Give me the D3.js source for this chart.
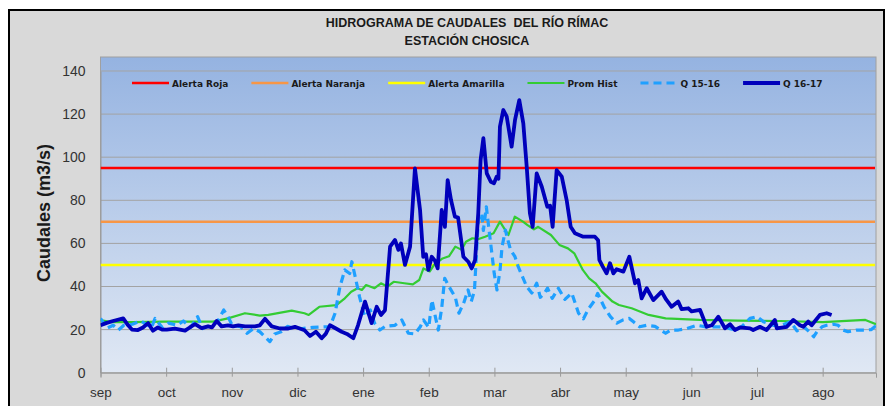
<!DOCTYPE html>
<html><head><meta charset="utf-8">
<script src="https://cdn.jsdelivr.net/npm/d3@7"></script>
<style>body{margin:0;background:#fff;}svg{display:block;}</style>
</head><body>
<svg id="c" width="886" height="406"></svg>
<script>
// ---------- DATA ----------
const months = ["sep","oct","nov","dic","ene","feb","mar","abr","may","jun","jul","ago"];
const yTicks = [0,20,40,60,80,100,120,140];
const alertNames = ["Alerta Roja","Alerta Naranja","Alerta Amarilla"];
const alertValues = [95,70,50];

const promDays = [0,5,15,30,50,53,60,68,75,79,90,96,98,103,111,115,118,121,123,125,129,132,135,138,143,147,150,152,155,157,161,164,167,170,172,175,178,181,185,188,190,192,195,199,201,204,206,212,216,220,223,227,230,233,236,241,244,250,258,266,282,300,320,340,360,365];
const promVals = [24.4,23.5,23.5,23.7,23.7,23.7,25.2,27.6,26.5,26.8,28.8,27.6,26.8,30.6,31.4,34.5,37.6,39.2,38.4,40.7,39.2,41.5,40,42.2,41.5,41,43,48.4,47,50,53,54,58.5,57,60.8,62.4,62,63.1,64.7,70.1,67,63.9,72.4,70,68.5,66.5,67.7,63.9,59.3,57.7,55.4,47.7,43.8,41.5,37.6,33,31.4,29.9,26.8,25.2,24.5,24.2,24,23.5,24.5,22.5];

const q1516Days = [0,2.9,6,8.4,11,15,19,24,25.7,29,32,36,39,42.5,45.7,48,52,55,58,60,62,66,69,72,75,77.4,79.7,82,85,88,91,95,100,105,108,110.4,112.7,115,117.3,118.3,120,121.9,124.3,127,129,131.5,134,138.6,141.8,144.9,148,150.5,152,154.5,156,157.6,159,160.6,162,164,167,168.7,171,173,174.5,176,177.8,179.4,180.2,181.6,182.9,184,185.3,186.6,188,189,190.6,191.6,193,195,196.6,198,200.6,203,205.3,207,209,210.4,212.6,215.5,218.6,221.8,225,227.3,229.6,232.7,234,237,240,243,246,248.9,251,253.7,257,261,266,268.4,272,276,280.6,285,289,293,298.6,301.7,305.7,309,312,316.6,320.7,324.7,327.8,331,333.6,335.7,337.2,339.6,341.8,344.9,347.2,349.5,351.8,355.7,359.8,362.8,364.4,365];
const q1516Vals = [25.2,20.6,22,19.8,22,22.5,24,21,25.2,21,23,22,24,21,26,20.5,22,23.5,29.1,26,22,21.3,18.3,20.5,19,16.7,14.4,18,19,21.5,20.6,20.5,21,21.3,21.3,27.6,39.9,47.7,46,51.5,44,35.3,26,29.1,23,19.8,21.5,22,24.5,18.3,18,21.3,24.5,21,33.7,26,19.8,30,43.8,40,35,27.6,32.5,38.4,33,38,70.9,74,66,77,66,57,46.1,38.4,47,58.5,66.2,62,57,54,49.2,46,39.9,37,41.5,35,37,39.2,34.5,39.2,34,37,27.6,25,29.5,33.7,36.8,30.6,26,23,24.5,25.2,23.5,21.3,22,21.5,18.3,19.8,19.8,20.5,22,21.3,21.3,21.3,19.8,21.3,25.2,26,23.7,22,22,23.7,19.4,21.3,19,16.7,19,21.3,22,22.5,22,19.8,19,19.8,19.8,20,21.3,19.8];

const q1617Days = [0,2.6,5.9,10.7,13,14.8,17.6,20,22.4,24.7,27,29,31.2,35,37.4,39.8,42,44.5,47.6,50.6,52.5,54.7,57,60,62.4,64.9,68,72.7,75,77.4,80.6,84.5,88.4,91.5,96,98.6,101.4,104.1,106,108,110.8,113.5,116,119,121.2,124.5,127.6,130,132,133.9,136.3,138.6,140.2,141.4,143.3,145.7,148,150.4,151.9,153.2,154.3,155.9,157.4,158.7,160.6,162.1,163.4,165,166.8,168.3,170.8,173.1,174.7,176.3,177.8,178.9,180.2,181.8,183.7,185.2,186.5,187.3,188,189.6,191.2,193.5,195.1,197.1,199,200.6,202.1,203.4,205.3,207.7,210.3,211.6,212.8,214.7,217.1,219.4,221.3,223.3,227.2,232.7,234.2,234.8,236.4,238.2,239.8,241.4,242.9,246.1,248.9,251.6,253.1,254.7,257.1,260.2,264.1,266.2,268.8,271.9,273.5,276.7,278.2,282.2,285.3,287.7,290.8,293.9,296.3,298.6,301,305.7,307.2,310.4,313.5,317.4,318.3,323,326.1,329.2,330.8,333.1,334.7,338.6,341.8,344.1];
const q1617Vals = [22,23,24,25.2,22,20,19.8,21,23,19.5,21,20,20,20.5,20,19.5,21,22.5,20.7,21.5,21,24,21.5,22,21.5,22,21.5,21.5,22,25,21.5,20.5,20.5,21.3,19.7,17,19,16,18,22,20.5,19,18,16,22,33,23,30.6,26.8,29,58.5,61.6,57,60,50,58.5,94.8,75.5,53.8,55,47.7,53.8,52,48.4,75.5,67.7,89.4,80,72.4,72,53.8,51.5,48.4,52.3,74,98.7,108.8,92.5,88.6,87.9,91,90,114.2,121.9,118.8,104.9,117.3,126.5,115.7,95.6,74,67.7,92.5,86.3,77,77.5,67.7,94,91,80.1,67.7,64.7,63.1,63.1,61.5,52.3,49.2,46.1,50.8,46.1,48,46.9,53.8,41.5,43,34.5,39.2,33.7,37.6,34,30.6,33,29.5,29.9,28.5,29.1,21.3,22,26,20.6,22.5,19.8,21,20.6,19.8,21.3,19.8,24.5,20.6,21.3,24.5,22,21.3,23.7,22,26.8,27.6,26.8];

// ---------- LAYOUT ----------
const svg = d3.select("#c");
const P = {l:100.5, r:876, t:57, b:372.7};

svg.append("rect").attr("x",9).attr("y",10).attr("width",875).attr("height",420)
  .attr("fill","#d9d9d9").attr("stroke","#000").attr("stroke-width",2);

const defs = svg.append("defs");
const g = defs.append("linearGradient").attr("id","bg").attr("x1",0).attr("y1",0).attr("x2",0).attr("y2",1);
g.append("stop").attr("offset","0%").attr("stop-color","#95b3e1");
g.append("stop").attr("offset","100%").attr("stop-color","#e0e8f4");

const x = d3.scaleLinear().domain([0,365]).range([P.l,P.r]);
const y = d3.scaleLinear().domain([0,140]).range([P.b,71]);

svg.append("rect").attr("x",P.l).attr("y",P.t).attr("width",P.r-P.l).attr("height",P.b-P.t)
  .attr("fill","url(#bg)").attr("stroke","#a0a0a0").attr("stroke-width",1);

svg.append("g").selectAll("line").data(yTicks.filter(d=>d>0)).join("line")
  .attr("x1",P.l).attr("x2",P.r).attr("y1",d=>y(d)).attr("y2",d=>y(d))
  .attr("stroke","#a3a3a3").attr("stroke-width",1);

const yAxis = d3.axisLeft(y).tickValues(yTicks).tickSize(0).tickPadding(15);
const ya = svg.append("g").attr("transform",`translate(${P.l},0)`).call(yAxis);
ya.select(".domain").attr("stroke","#9a9a9a");
ya.selectAll("text").attr("font-family","'Liberation Sans',Arial,sans-serif").attr("font-size",14).attr("fill","#333");

const tickDays = months.map((m,i)=>i*30.9);
const xAxis = d3.axisBottom(x).tickValues(tickDays).tickFormat((d,i)=>months[i]).tickSize(5).tickPadding(10);
const xa = svg.append("g").attr("transform",`translate(0,${P.b})`).call(xAxis);
xa.select(".domain").attr("stroke","#9a9a9a");
xa.selectAll(".tick line").attr("stroke","#9a9a9a").attr("y1",-5).attr("y2",4);
xa.selectAll("text").attr("font-family","'Liberation Sans',Arial,sans-serif").attr("font-size",13.5).attr("fill","#333");

svg.append("text").attr("x",467).attr("y",27).attr("text-anchor","middle")
  .attr("font-family","'Liberation Sans',Arial,sans-serif").attr("font-weight","bold")
  .attr("font-size",12.5).attr("fill","#1a1a1a").attr("xml:space","preserve").text("HIDROGRAMA DE CAUDALES  DEL RÍO RÍMAC");
svg.append("text").attr("x",467).attr("y",45).attr("text-anchor","middle")
  .attr("font-family","'Liberation Sans',Arial,sans-serif").attr("font-weight","bold")
  .attr("font-size",12.5).attr("fill","#1a1a1a").text("ESTACIÓN CHOSICA");
svg.append("text").attr("transform","translate(50,213) rotate(-90)").attr("text-anchor","middle")
  .attr("font-family","'Liberation Sans',Arial,sans-serif").attr("font-weight","bold")
  .attr("font-size",18).attr("fill","#1a1a1a").text("Caudales (m3/s)");

const alertColors = ["#ff0000","#f79646","#ffff00"];
defs.append("clipPath").attr("id","clip").append("rect")
  .attr("x",P.l).attr("y",P.t).attr("width",P.r-P.l).attr("height",P.b-P.t);
const plot = svg.append("g").attr("clip-path","url(#clip)");

alertValues.forEach((v,i)=>{
  plot.append("line").attr("x1",P.l).attr("x2",P.r-1).attr("y1",y(v)).attr("y2",y(v))
    .attr("stroke",alertColors[i]).attr("stroke-width",2.5);
});

const line = d3.line().x(d=>x(d[0])).y(d=>y(d[1]));
const series = [
  {name:"Prom Hist", days:promDays, vals:promVals, color:"#33cc33", w:2.2, dash:null},
  {name:"Q 15-16", days:q1516Days, vals:q1516Vals, color:"#1fa0ff", w:3.2, dash:"8,5"},
  {name:"Q 16-17", days:q1617Days, vals:q1617Vals, color:"#0000bb", w:3.8, dash:null}
];
series.forEach(s=>{
  plot.append("path").datum(d3.zip(s.days,s.vals)).attr("d",line)
    .attr("fill","none").attr("stroke",s.color).attr("stroke-width",s.w)
    .attr("stroke-linejoin","round").attr("stroke-dasharray",s.dash);
});

const legItems = [
  ...alertNames.map((n,i)=>({name:n,color:alertColors[i],w:2.5,dash:null})),
  ...series.map(s=>({name:s.name,color:s.color,w:s.w,dash:s.dash}))
];
const lg = svg.append("g");
let lx = 132;
const ly = 83;
legItems.forEach(it=>{
  lg.append("line").attr("x1",lx).attr("x2",lx+37).attr("y1",ly).attr("y2",ly)
    .attr("stroke",it.color).attr("stroke-width",it.w).attr("stroke-dasharray",it.dash);
  const t = lg.append("text").attr("x",lx+40).attr("y",ly+3.5)
    .attr("font-family","'DejaVu Sans',Verdana,sans-serif").attr("font-weight","bold")
    .attr("font-size",9).attr("fill","#1a1a1a").text(it.name);
  lx += 40 + t.node().getComputedTextLength() + 23;
});
</script>
</body></html>
